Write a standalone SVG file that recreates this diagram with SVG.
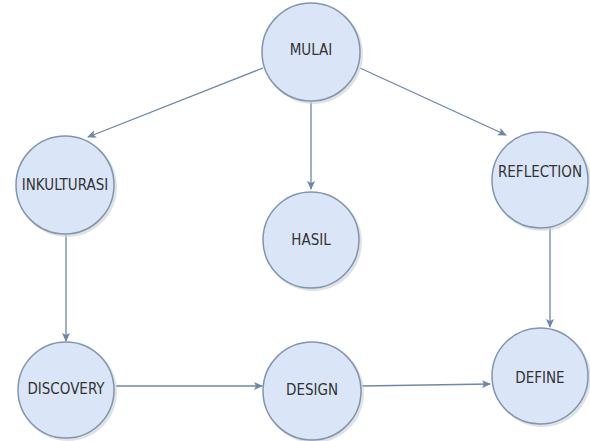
<svg xmlns="http://www.w3.org/2000/svg" width="590" height="441" viewBox="0 0 590 441">
<defs>
<marker id="arr" markerWidth="10" markerHeight="10" refX="8" refY="5" orient="auto" markerUnits="userSpaceOnUse">
<path d="M0,1 L9,5 L0,9 L2,5 Z" fill="#6f87a6"/>
</marker>
</defs>
<style>
.n circle.s{fill:#c9cfd6;opacity:0.6}
.n circle.c{fill:#dae6f7;stroke:#8196ad;stroke-width:1.5}
.n text{font-family:"DejaVu Sans Condensed","DejaVu Sans",sans-serif;font-size:15px;fill:#333;text-anchor:middle;dominant-baseline:central}
.e line{stroke:#6f87a6;stroke-width:1.3;marker-end:url(#arr)}
</style>
<rect width="590" height="441" fill="#fff"/>
<g class="e" id="connectors">
<line x1="263" y1="68" x2="88" y2="137"/>
<line x1="311" y1="102" x2="311" y2="189"/>
<line x1="360" y1="68" x2="506" y2="135"/>
<line x1="66" y1="235" x2="66" y2="341"/>
<line x1="550" y1="228" x2="550" y2="327"/>
<line x1="116" y1="386" x2="262" y2="386"/>
<line x1="362" y1="386" x2="490" y2="384"/>
</g>
<g class="n" id="mulai"><circle class="s" cx="313" cy="54" r="50"/><circle class="c" cx="311" cy="52" r="49"/><text x="311" y="50">MULAI</text></g>
<g class="n" id="inkulturasi"><circle class="s" cx="67" cy="187" r="50"/><circle class="c" cx="65" cy="185" r="49"/><text x="65" y="185">INKULTURASI</text></g>
<g class="n" id="hasil"><circle class="s" cx="313" cy="242" r="49"/><circle class="c" cx="311" cy="240" r="48"/><text x="311" y="240">HASIL</text></g>
<g class="n" id="reflection"><circle class="s" cx="542" cy="182" r="49"/><circle class="c" cx="540" cy="180" r="48"/><text x="540" y="172">REFLECTION</text></g>
<g class="n" id="discovery"><circle class="s" cx="68" cy="392" r="49"/><circle class="c" cx="66" cy="390" r="48"/><text x="66" y="389">DISCOVERY</text></g>
<g class="n" id="design"><circle class="s" cx="314" cy="393" r="50"/><circle class="c" cx="312" cy="391" r="49"/><text x="312" y="390">DESIGN</text></g>
<g class="n" id="define"><circle class="s" cx="542" cy="378" r="49"/><circle class="c" cx="540" cy="376" r="48"/><text x="540" y="378">DEFINE</text></g>
</svg>
